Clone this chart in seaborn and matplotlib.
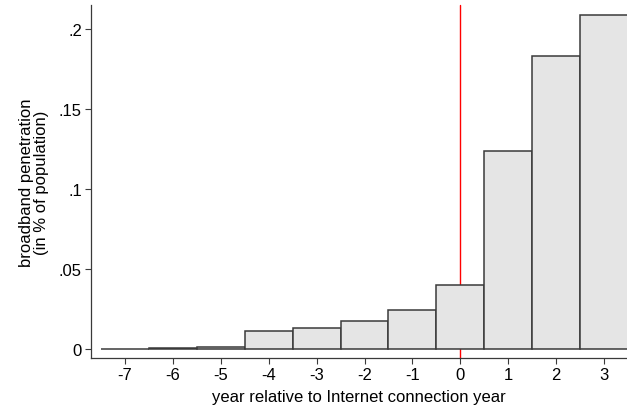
import matplotlib
matplotlib.use("Agg")
import matplotlib.pyplot as plt
import seaborn as sns
import pandas as pd

# Broadband penetration by year relative to Internet connection year
years = [-7, -6, -5, -4, -3, -2, -1, 0, 1, 2, 3]
penetration = [0.0001, 0.0005, 0.001, 0.011, 0.0129, 0.0173, 0.0246, 0.0402, 0.1238, 0.1831, 0.2088]
y_ticks = [0, 0.05, 0.1, 0.15, 0.2]
y_tick_labels = ["0", ".05", ".1", ".15", ".2"]
x_ticks = years

df = pd.DataFrame({"year": years, "penetration": penetration})

sns.set_theme(style="ticks")
plt.rcParams["font.family"] = ["Liberation Sans", "DejaVu Sans"]

fig = plt.figure(figsize=(6.27, 4.10), dpi=100)
ax = fig.add_axes([91 / 627, 1 - 359 / 410, 536 / 627, 353 / 410])

ax.axvline(0, color="red", linewidth=1.0, zorder=0.5, clip_on=False)

sns.barplot(data=df, x="year", y="penetration", native_scale=True, width=1.0,
            color="#e5e5e5", saturation=1, edgecolor="#3a3a3a", linewidth=1.1,
            ax=ax, zorder=2)

ax.set_xlim(-7.71, 3.48)
ax.set_ylim(-0.0056, 0.215)
ax.set_xticks(x_ticks)
ax.set_xticklabels([str(v) for v in x_ticks], fontsize=12, color="black")
ax.set_yticks(y_ticks)
ax.set_yticklabels(y_tick_labels, fontsize=12, color="black")
ax.tick_params(axis="both", direction="out", length=4.5, width=0.8, color="#3a3a3a", pad=2)

ax.set_xlabel("year relative to Internet connection year", fontsize=12, color="black", labelpad=5)
ax.set_ylabel("broadband penetration\n(in % of population)", fontsize=12, color="black",
              labelpad=7, linespacing=1.0)

for side in ["top", "right"]:
    ax.spines[side].set_visible(False)
for side in ["left", "bottom"]:
    ax.spines[side].set_color("#3a3a3a")
    ax.spines[side].set_linewidth(0.9)

fig.savefig("out.png", dpi=100)
